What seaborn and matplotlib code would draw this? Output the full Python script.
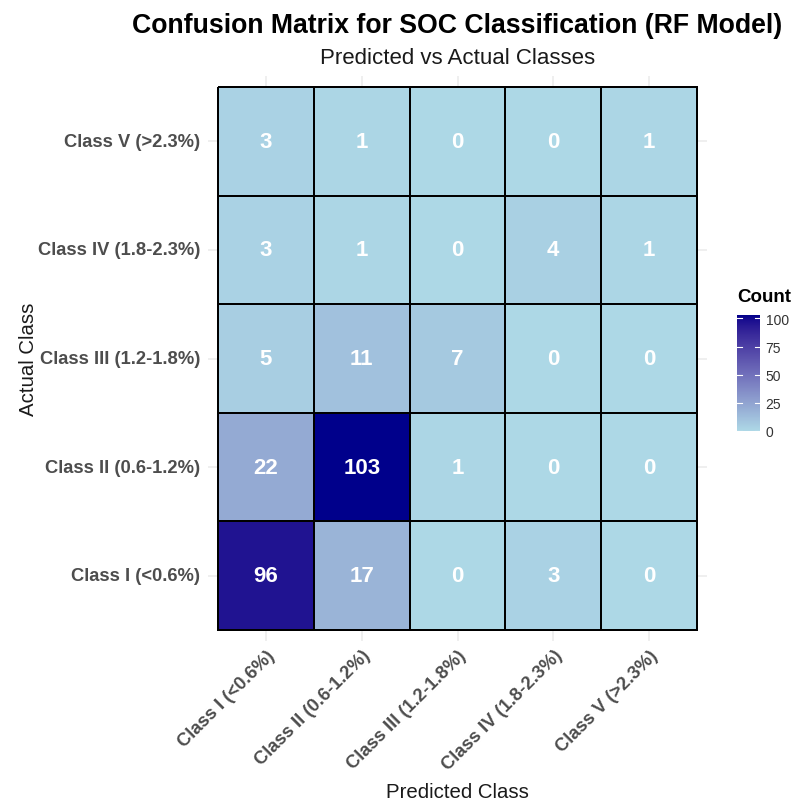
import numpy as np
import pandas as pd
import matplotlib
matplotlib.use("Agg")
import matplotlib.pyplot as plt
import seaborn as sns
from matplotlib.colors import ListedColormap, to_rgb

# ---- data ----
classes = ["Class I (<0.6%)", "Class II (0.6-1.2%)", "Class III (1.2-1.8%)",
           "Class IV (1.8-2.3%)", "Class V (>2.3%)"]
row_v = [3, 1, 0, 0, 1]
row_iv = [3, 1, 0, 4, 1]
row_iii = [5, 11, 7, 0, 0]
row_ii = [22, 103, 1, 0, 0]
row_i = [96, 17, 0, 3, 0]
cbar_ticks = [0, 25, 50, 75, 100]

rows_top_to_bottom = [classes[4], classes[3], classes[2], classes[1], classes[0]]
df = pd.DataFrame([row_v, row_iv, row_iii, row_ii, row_i],
                  index=rows_top_to_bottom, columns=classes)

# ---- Lab-interpolated gradient lightblue -> darkblue ----
def srgb_to_lab(c):
    c = np.asarray(c, float)
    lin = np.where(c <= 0.04045, c / 12.92, ((c + 0.055) / 1.055) ** 2.4)
    M = np.array([[0.4124, 0.3576, 0.1805], [0.2126, 0.7152, 0.0722], [0.0193, 0.1192, 0.9505]])
    xyz = M @ lin / np.array([0.95047, 1.0, 1.08883])
    f = np.where(xyz > 0.008856, np.cbrt(xyz), 7.787 * xyz + 16 / 116)
    return np.array([116 * f[1] - 16, 500 * (f[0] - f[1]), 200 * (f[1] - f[2])])

def lab_to_srgb(lab):
    L, a, b = lab
    fy = (L + 16) / 116
    fx = fy + a / 500
    fz = fy - b / 200
    f = np.array([fx, fy, fz])
    xyz = np.where(f ** 3 > 0.008856, f ** 3, (f - 16 / 116) / 7.787) * np.array([0.95047, 1.0, 1.08883])
    Minv = np.array([[3.2406, -1.5372, -0.4986], [-0.9689, 1.8758, 0.0415], [0.0557, -0.2040, 1.0570]])
    lin = Minv @ xyz
    c = np.where(lin <= 0.0031308, 12.92 * lin, 1.055 * np.clip(lin, 0, None) ** (1 / 2.4) - 0.055)
    return np.clip(c, 0, 1)

lo = srgb_to_lab(to_rgb("#ADD8E6"))
hi = srgb_to_lab(to_rgb("#00008B"))
cols = [lab_to_srgb(lo + (hi - lo) * t) for t in np.linspace(0, 1, 256)]
cmap = ListedColormap(cols)

plt.rcParams["font.family"] = ["Liberation Sans", "DejaVu Sans"]

W, H = 796, 804
fig = plt.figure(figsize=(W / 100, H / 100), dpi=100)

# tiles span x 218-697, y 88-631; panel has 0.1-unit expansion
uw = (697 - 218) / 5
uh = (631 - 88) / 5
px0, px1 = 218 - 0.1 * uw, 697 + 0.1 * uw
py0, py1 = 88 - 0.1 * uh, 631 + 0.1 * uh
ax = fig.add_axes([px0 / W, 1 - py1 / H, (px1 - px0) / W, (py1 - py0) / H])
cax = fig.add_axes([737 / W, 1 - 432 / H, 23 / W, 116 / H])

sns.heatmap(df, ax=ax, cmap=cmap, vmin=0, vmax=103, annot=True, fmt="d",
            annot_kws={"color": "white", "fontweight": "bold", "fontsize": 16},
            linewidths=1.3, linecolor="black", cbar=True, cbar_ax=cax, square=False)

ax.set_xlim(-0.1, 5.1)
ax.set_ylim(5.1, -0.1)
for p in np.arange(5) + 0.5:
    ax.axvline(p, color="#EBEBEB", lw=1.1, zorder=0)
    ax.axhline(p, color="#EBEBEB", lw=1.1, zorder=0)
for s in ax.spines.values():
    s.set_visible(False)

ax.tick_params(axis="both", length=0)
ax.tick_params(axis="y", pad=6)
ax.set_yticklabels(rows_top_to_bottom, rotation=0, fontsize=13.2, fontweight="bold", color="#4D4D4D")
ax.set_xticklabels(classes, rotation=45, ha="right", va="top", rotation_mode="anchor",
                   fontsize=13.2, fontweight="bold", color="#4D4D4D")
ax.tick_params(axis="x", pad=4)
ax.set_xlabel("Predicted Class", fontsize=14.7, color="#1A1A1A", labelpad=6)
ax.set_ylabel("Actual Class", fontsize=14.7, color="#1A1A1A", labelpad=0)

cx = px0 / W + (px1 - px0) / W / 2
fig.text(cx, 1 - 26 / H, "Confusion Matrix for SOC Classification (RF Model)",
         ha="center", va="center", fontsize=19.2, fontweight="bold", color="black")
fig.text(cx, 1 - 58 / H, "Predicted vs Actual Classes",
         ha="center", va="center", fontsize=16, color="#1A1A1A")

# colorbar styling
cb = ax.collections[0].colorbar
cb.outline.set_visible(False)
cb.set_ticks(cbar_ticks)
cax.tick_params(length=0, labelsize=10, colors="#333333", pad=4)
for t in cbar_ticks:
    cax.plot([0, 0.2], [t, t], color="white", lw=0.8, transform=cax.get_yaxis_transform())
    cax.plot([0.8, 1.0], [t, t], color="white", lw=0.8, transform=cax.get_yaxis_transform())
fig.text(737 / W, 1 - 298 / H, "Count", ha="left", va="center", fontsize=13.5, fontweight="bold")

fig.savefig("out.png", dpi=100)
